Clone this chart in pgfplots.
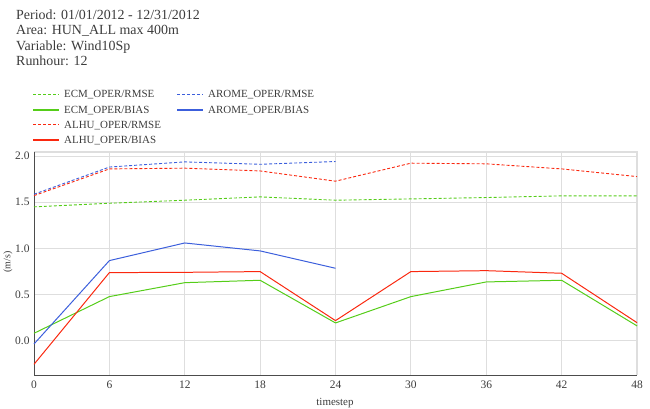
\documentclass[border=0pt]{standalone}
\usepackage{fontspec}
\setmainfont{Liberation Serif}
\usepackage{pgfplots}
\pgfplotsset{compat=1.18}
\definecolor{cgreen}{RGB}{85,205,25}
\definecolor{cred}{RGB}{250,40,15}
\definecolor{cblue}{RGB}{60,95,220}
\definecolor{ctxt}{RGB}{60,60,60}
\definecolor{cgrid}{RGB}{222,222,222}
\tikzset{rmse/.style={line width=0.9pt,dash pattern=on 3bp off 2bp},bias/.style={line width=1pt},
  lgt/.style={anchor=base west,inner sep=0,font=\fontsize{11}{12}\selectfont,text=ctxt}}
\begin{document}
\begin{tikzpicture}[x=1bp,y=-1bp]
\useasboundingbox (0,0) rectangle (650,408);
\node[anchor=base west,inner sep=0,font=\fontsize{14}{14}\selectfont,text=ctxt] at (16,19) {Period: 01/01/2012 - 12/31/2012};
\node[anchor=base west,inner sep=0,font=\fontsize{14}{14}\selectfont,text=ctxt] at (16,34.5) {Area: HUN\_ALL max 400m};
\node[anchor=base west,inner sep=0,font=\fontsize{14}{14}\selectfont,text=ctxt] at (16,50) {Variable: Wind10Sp};
\node[anchor=base west,inner sep=0,font=\fontsize{14}{14}\selectfont,text=ctxt] at (16,65.5) {Runhour: 12};
\begin{axis}[
  at={(34bp,-375bp)}, anchor=south west,
  scale only axis, width=603bp, height=223bp,
  xmin=0, xmax=48, ymin=-0.372, ymax=2.043,
  xtick={0,6,...,48}, ytick={0,0.5,1,1.5,2},
  yticklabel style={/pgf/number format/fixed,/pgf/number format/fixed zerofill,/pgf/number format/precision=1},
  /pgf/number format/assume math mode=true,
  tick label style={font=\fontsize{11.5}{12}\selectfont,text=ctxt},
  grid=major, major grid style={cgrid,line width=0.8pt},
  tick style={draw=none},
  axis line style={draw=none},
  xlabel={timestep}, ylabel={(m/s)},
  every axis y label/.style={at={(-26bp,113bp)},rotate=90,anchor=center,font=\fontsize{10}{11}\selectfont,text=ctxt},
  every axis x label/.style={at={(301bp,-30bp)},anchor=base,font=\fontsize{11}{11}\selectfont,text=ctxt},
  xticklabel style={yshift=-2bp},
  yticklabel style={xshift=-1bp},
  clip=false,
]
\draw[cgrid,line width=1.2pt] (axis cs:0,2.043) -- (axis cs:48,2.043) -- (axis cs:48,-0.372);
\draw[black!70,line width=0.9pt] (axis cs:0,2.043) -- (axis cs:0,-0.372) -- (axis cs:48,-0.372);
% ECM RMSE
\addplot[cgreen,rmse] coordinates {(0,1.449)(6,1.488)(12,1.521)(18,1.557)(24,1.521)(30,1.535)(36,1.550)(42,1.568)(48,1.568)};
% ECM BIAS
\addplot[cgreen,bias] coordinates {(0,0.080)(6,0.477)(12,0.628)(18,0.654)(24,0.192)(30,0.477)(36,0.636)(42,0.654)(48,0.160)};
% ALHU RMSE
\addplot[cred,rmse] coordinates {(0,1.571)(6,1.860)(12,1.868)(18,1.838)(24,1.727)(30,1.922)(36,1.915)(42,1.860)(48,1.777)};
% ALHU BIAS
\addplot[cred,bias] coordinates {(0,-0.256)(6,0.737)(12,0.740)(18,0.748)(24,0.217)(30,0.748)(36,0.758)(42,0.730)(48,0.195)};
% AROME RMSE
\addplot[cblue,rmse] coordinates {(0,1.586)(6,1.880)(12,1.936)(18,1.910)(24,1.940)};
% AROME BIAS
\addplot[cblue,bias] coordinates {(0,-0.036)(6,0.867)(12,1.058)(18,0.972)(24,0.784)};
\end{axis}
% legend
\draw[cgreen,rmse] (33,94.5) -- (59,94.5);
\node[lgt] at (64,97.8) {ECM\_OPER/RMSE};
\draw[cgreen,line width=1.3pt] (33,110) -- (59,110);
\node[lgt] at (64,113.1) {ECM\_OPER/BIAS};
\draw[cred,rmse] (33,124.5) -- (59,124.5);
\node[lgt] at (64,128.5) {ALHU\_OPER/RMSE};
\draw[cred,line width=1.3pt] (33,140) -- (59,140);
\node[lgt] at (64,143.8) {ALHU\_OPER/BIAS};
\draw[cblue,rmse] (177,94.5) -- (203,94.5);
\node[lgt] at (208,97.8) {AROME\_OPER/RMSE};
\draw[cblue,line width=1.3pt] (177,110) -- (203,110);
\node[lgt] at (208,113.1) {AROME\_OPER/BIAS};
\end{tikzpicture}
\end{document}
